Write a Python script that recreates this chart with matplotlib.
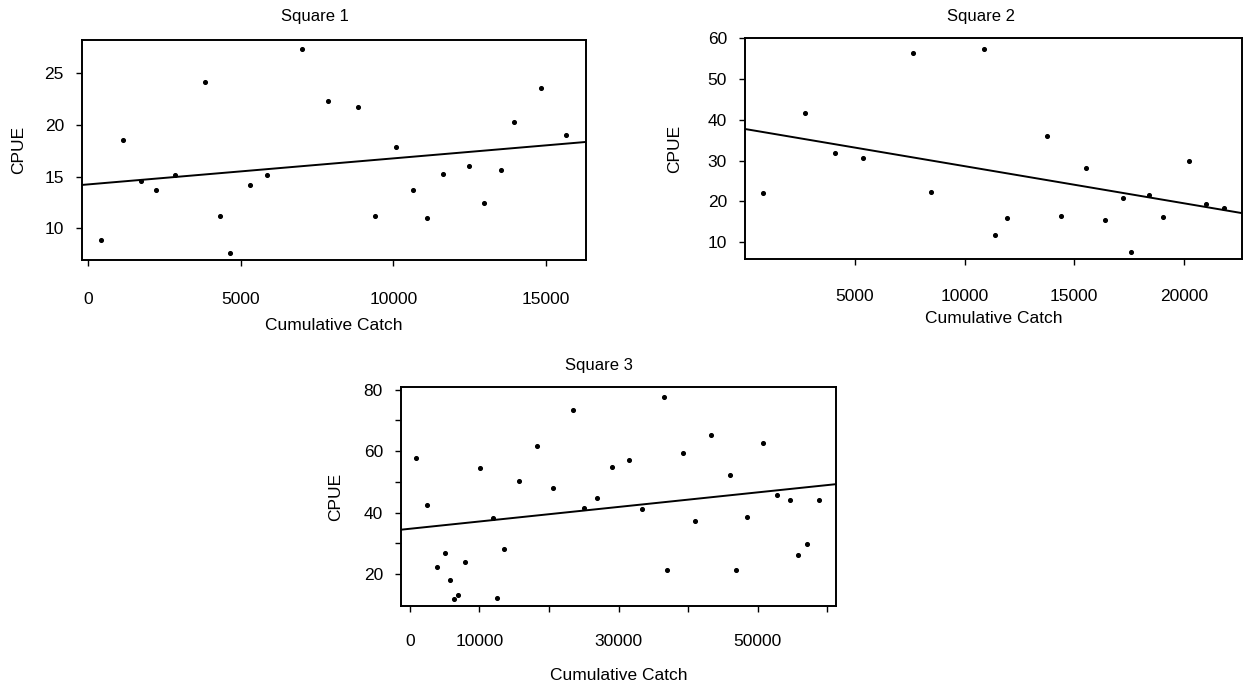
import matplotlib
matplotlib.use("Agg")
import matplotlib.pyplot as plt
import numpy as np

plt.rcParams['font.family'] = ['Liberation Sans', 'DejaVu Sans']

# Square 1
sq1_catch = [404, 1149, 1730, 2222, 2854, 3826, 4318, 4659, 5290, 5846, 7020, 7866,
             8851, 9407, 10076, 10644, 11086, 11629, 12475, 12980, 13535, 13965, 14848, 15644]
sq1_cpue = [8.84, 18.53, 14.54, 13.7, 15.15, 24.13, 11.19, 7.65, 14.15, 15.15, 27.38, 22.33,
            21.72, 11.19, 17.89, 13.73, 11.03, 15.22, 16.02, 12.48, 15.6, 20.24, 23.58, 19.01]

# Square 2
sq2_catch = [790, 2736, 4103, 5365, 7660, 8480, 10881, 11400, 11929, 13765, 14414, 15556,
             16389, 17238, 17593, 18426, 19043, 20216, 21019, 21821]
sq2_cpue = [22.1, 41.6, 31.8, 30.7, 56.3, 22.3, 57.2, 11.7, 15.9, 36.05, 16.5, 28.1,
            15.4, 20.9, 7.65, 21.5, 16.1, 29.8, 19.3, 18.3]

# Square 3
sq3_catch = [864, 2448, 3937, 4993, 5809, 6337, 6913, 7969, 10034, 11954, 12530, 13586,
             15650, 18339, 20499, 23380, 25060, 26932, 29044, 31541, 33365, 36486, 37014,
             39318, 41046, 43303, 45991, 46903, 48488, 50792, 52712, 54585, 55785, 57129, 58857]
sq3_cpue = [57.7, 42.6, 22.4, 26.7, 18.2, 11.9, 13.3, 23.9, 54.6, 38.4, 12.1, 28.2,
            50.2, 61.8, 48.1, 73.4, 41.4, 44.8, 54.9, 57.1, 41.2, 77.6, 21.3,
            59.3, 37.2, 65.4, 52.2, 21.2, 38.6, 62.7, 45.7, 44.1, 26.3, 29.8, 44.1]

panels = [
    dict(title='Square 1', x=sq1_catch, y=sq1_cpue, rect=[0.0659, 0.6193, 0.4051, 0.3221],
         xlim=(-204, 16310), ylim=(6.95, 28.2), xticks=[0, 5000, 10000, 15000],
         xlabels=['0', '5000', '10000', '15000'], yticks=[10, 15, 20, 25],
         ylabels=['10', '15', '20', '25'], tx=0.4625, tpad=14, xtpad=19, xpad=8, ypad=13),
    dict(title='Square 2', x=sq2_catch, y=sq2_cpue, rect=[0.5989, 0.6201, 0.3995, 0.3243],
         xlim=(-15, 22650), ylim=(5.8, 60), xticks=[5000, 10000, 15000, 20000],
         xlabels=['5000', '10000', '15000', '20000'], yticks=[10, 20, 30, 40, 50, 60],
         ylabels=['10', '20', '30', '40', '50', '60'], tx=0.475, tpad=12, xtpad=17, xpad=5, ypad=18),
    dict(title='Square 3', x=sq3_catch, y=sq3_cpue, rect=[0.3223, 0.1127, 0.3497, 0.3207],
         xlim=(-1296, 61258), ylim=(9.6, 80.9),
         xticks=[0, 10000, 20000, 30000, 40000, 50000, 60000],
         xlabels=['0', '10000', '', '30000', '', '50000', ''],
         yticks=[20, 30, 40, 50, 60, 70, 80],
         ylabels=['20', '', '40', '', '60', '', '80'], tx=0.456, tpad=12, xtpad=16, xpad=14, ypad=15),
]

fig = plt.figure(figsize=(12.44, 6.83), dpi=100)
for p in panels:
    ax = fig.add_axes(p['rect'])
    ax.scatter(p['x'], p['y'], s=7, color='black', zorder=3)
    # least-squares line over the full x range
    m, b = np.polyfit(p['x'], p['y'], 1)
    xs = np.array(p['xlim'])
    ax.plot(xs, m * xs + b, color='black', lw=1.4)
    ax.set_xlim(p['xlim'])
    ax.set_ylim(p['ylim'])
    ax.set_xticks(p['xticks'])
    ax.set_xticklabels(p['xlabels'])
    ax.set_yticks(p['yticks'])
    ax.set_yticklabels(p['ylabels'])
    ax.tick_params(direction='out', length=4, width=1, labelsize=12.5)
    ax.tick_params(axis='x', pad=p['xtpad'])
    ax.tick_params(axis='y', pad=9)
    for s in ax.spines.values():
        s.set_linewidth(1.4)
    ax.set_title(p['title'], x=p['tx'], fontsize=12, pad=p['tpad'])
    ax.set_xlabel('Cumulative Catch', fontsize=12.5, labelpad=p['xpad'])
    ax.set_ylabel('CPUE', fontsize=12.5, labelpad=p['ypad'])

fig.savefig('out.png', dpi=100)
